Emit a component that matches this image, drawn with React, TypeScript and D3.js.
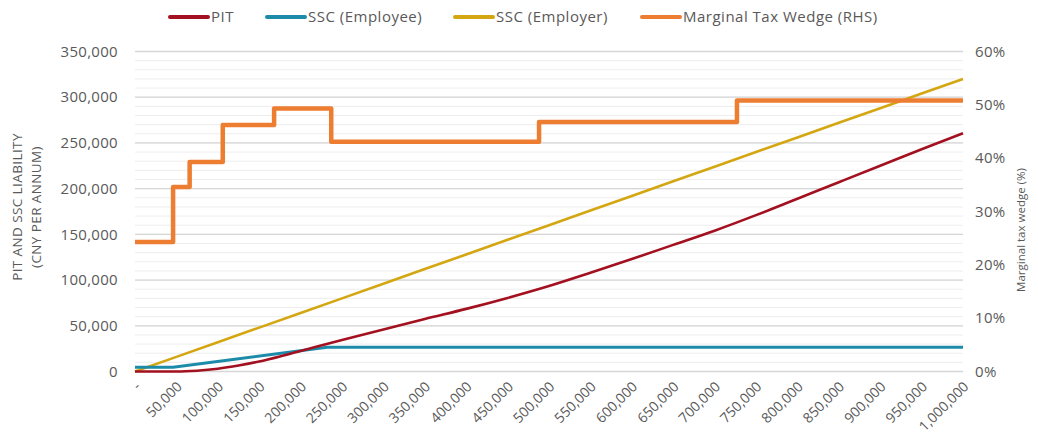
import React from "react";
import * as d3 from "d3";

const categories = [0, 50000, 100000, 150000, 200000, 250000, 300000, 350000, 400000, 450000, 500000, 550000, 600000, 650000, 700000, 750000, 800000, 850000, 900000, 950000, 1000000];
const categoryLabels = ["-", "50,000", "100,000", "150,000", "200,000", "250,000", "300,000", "350,000", "400,000", "450,000", "500,000", "550,000", "600,000", "650,000", "700,000", "750,000", "800,000", "850,000", "900,000", "950,000", "1,000,000"];

const pitIncome = [0, 50000, 75000, 100000, 125000, 150000, 175000, 200000, 250000, 300000, 350000, 400000, 450000, 500000, 550000, 600000, 650000, 700000, 750000, 800000, 850000, 900000, 950000, 1000000];
const pitValues = [0, 0, 900, 3000, 6500, 11000, 16500, 22500, 34500, 46000, 57500, 68500, 80500, 93500, 108000, 123000, 138500, 154000, 171000, 189000, 207000, 225000, 243000, 260500];
const employerValues = [0, 16000, 32000, 48000, 64000, 80000, 96000, 112000, 128000, 144000, 160000, 176000, 192000, 208000, 224000, 240000, 256000, 272000, 288000, 304000, 320000];

const employeeIncome = [0, 46000, 232000, 1000000];
const employeeValues = [4600, 4600, 26500, 26500];

const wedgeIncome = [0, 46000, 66000, 106000, 168000, 237000, 488000, 727000, 1000000];
const wedgeRate = [24.3, 34.6, 39.3, 46.2, 49.3, 43.1, 46.8, 50.8, 50.8];

const leftTicks = [0, 50000, 100000, 150000, 200000, 250000, 300000, 350000];
const minorTicks = d3.range(0, 350001, 10000);
const rightTicks = [0, 10, 20, 30, 40, 50, 60];

const legendItems = [
  { label: "PIT", color: "#A3101F", x: 170 },
  { label: "SSC (Employee)", color: "#1C8BAA", x: 267 },
  { label: "SSC (Employer)", color: "#D4A611", x: 455 },
  { label: "Marginal Tax Wedge (RHS)", color: "#ED7D31", x: 642 },
];

const FONT = "'Open Sans', sans-serif";
const GRAY = "#595959";

export default function App() {
  const x = d3.scaleLinear().domain([0, 1000000]).range([135, 963]);
  const yL = d3.scaleLinear().domain([0, 350000]).range([371.5, 51.5]);
  const yR = d3.scaleLinear().domain([0, 60]).range([371.5, 51.5]);
  const fmt = d3.format(",");

  const line = d3.line<[number, number]>().x((d) => x(d[0])).y((d) => yL(d[1]));
  const smooth = d3
    .line<[number, number]>()
    .x((d) => x(d[0]))
    .y((d) => yL(d[1]))
    .curve(d3.curveMonotoneX);
  const stepLine = d3
    .line<[number, number]>()
    .x((d) => x(d[0]))
    .y((d) => yR(d[1]))
    .curve(d3.curveStepAfter);

  const pitPath = smooth(pitIncome.map((c, i) => [c, pitValues[i]]));
  const employerPath = line(categories.map((c, i) => [c, employerValues[i]]));
  const employeePath = line(employeeIncome.map((c, i) => [c, employeeValues[i]]));
  const wedgePath = stepLine(wedgeIncome.map((c, i) => [c, wedgeRate[i]]));

  return (
    <svg width={1038} height={441} style={{ position: "absolute", left: 0, top: 0, background: "#fff" }}>
      {minorTicks.map((t) => (
        <line key={"m" + t} x1={135} x2={963} y1={yL(t)} y2={yL(t)} stroke="#EDEDED" strokeWidth={1} />
      ))}
      {leftTicks.map((t) => (
        <line key={"g" + t} x1={135} x2={963} y1={yL(t)} y2={yL(t)} stroke="#D6D6D6" strokeWidth={1.3} />
      ))}

      {leftTicks.map((t) => (
        <text key={"l" + t} x={118} y={yL(t)} dy="0.35em" textAnchor="end" fontFamily={FONT} fontSize={15} letterSpacing={0.3} fill={GRAY}>
          {t === 0 ? "0" : fmt(t)}
        </text>
      ))}
      {rightTicks.map((t) => (
        <text key={"r" + t} x={975} y={yR(t)} dy="0.35em" textAnchor="start" fontFamily={FONT} fontSize={15} letterSpacing={0.3} fill={GRAY}>
          {t + "%"}
        </text>
      ))}

      {categories.map((c, i) => (
        <text
          key={"x" + c}
          transform={`translate(${x(c) + 3},${384}) rotate(-45)`}
          textAnchor="end"
          dy="0.35em"
          fontFamily={FONT}
          fontSize={14}
          fill={GRAY}
        >
          {categoryLabels[i]}
        </text>
      ))}

      <text transform="translate(22,207) rotate(-90)" textAnchor="middle" fontFamily={FONT} fontSize={13.5} letterSpacing={0.4} fill={GRAY}>
        PIT AND SSC LIABILITY
      </text>
      <text transform="translate(41,207) rotate(-90)" textAnchor="middle" fontFamily={FONT} fontSize={13.5} letterSpacing={0.4} fill={GRAY}>
        (CNY PER ANNUM)
      </text>
      <text transform="translate(1025,230) rotate(-90)" textAnchor="middle" fontFamily={FONT} fontSize={11.5} fill={GRAY}>
        Marginal tax wedge (%)
      </text>

      <path d={employerPath || ""} fill="none" stroke="#D4A611" strokeWidth={2.6} />
      <path d={employeePath || ""} fill="none" stroke="#1C8BAA" strokeWidth={3} />
      <path d={pitPath || ""} fill="none" stroke="#A3101F" strokeWidth={2.6} />
      <path d={wedgePath || ""} fill="none" stroke="#ED7D31" strokeWidth={4.5} strokeLinejoin="round" />

      {legendItems.map((it) => (
        <g key={it.label}>
          <line x1={it.x} x2={it.x + 38} y1={17} y2={17} stroke={it.color} strokeWidth={4} strokeLinecap="round" />
          <text x={it.x + 41} y={17} dy="0.35em" fontFamily={FONT} fontSize={15} letterSpacing={0.5} fill={GRAY}>
            {it.label}
          </text>
        </g>
      ))}
    </svg>
  );
}
